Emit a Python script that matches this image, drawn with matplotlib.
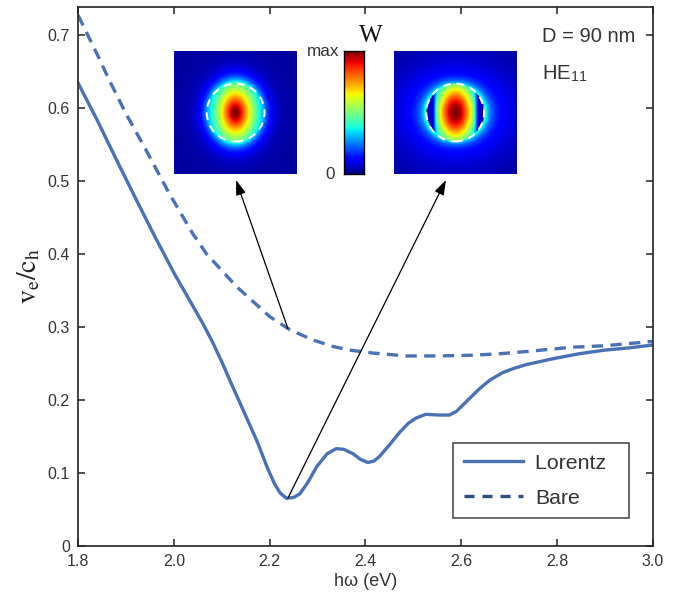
import numpy as np
import matplotlib
matplotlib.use("Agg")
import matplotlib.pyplot as plt
from matplotlib.patches import Circle

plt.rcParams['font.family'] = ['Liberation Sans', 'DejaVu Sans']
plt.rcParams['mathtext.fontset'] = 'stix'

# Lorentz (solid) curve
lor_x = [1.80, 1.84, 1.88, 1.92, 1.96, 2.00, 2.04, 2.06, 2.08, 2.10, 2.12, 2.15, 2.175, 2.195,
         2.21, 2.222, 2.235, 2.25, 2.263, 2.28, 2.298, 2.32, 2.339,
         2.355, 2.374, 2.39, 2.405, 2.418, 2.429, 2.45, 2.471, 2.49, 2.506, 2.526, 2.554,
         2.575, 2.59, 2.61, 2.638, 2.66, 2.686, 2.71, 2.735, 2.79, 2.846, 2.90, 2.95, 3.00]
lor_y = [0.634, 0.583, 0.529, 0.476, 0.424, 0.374, 0.328, 0.305, 0.280, 0.252, 0.222, 0.178,
         0.141, 0.107, 0.085, 0.072, 0.065, 0.066, 0.071, 0.087, 0.108, 0.126, 0.133,
         0.132, 0.126, 0.118, 0.114, 0.116, 0.122, 0.138, 0.155, 0.168, 0.175, 0.180, 0.179,
         0.179, 0.184, 0.197, 0.215, 0.227, 0.237, 0.243, 0.248, 0.256, 0.263, 0.268, 0.271, 0.275]

# Bare (dashed) curve
bare_x = [1.80, 1.846, 1.865, 1.90, 1.942, 1.99, 2.039, 2.068, 2.131, 2.20, 2.242, 2.29,
          2.332, 2.367, 2.415, 2.485, 2.55, 2.624, 2.68, 2.735, 2.832, 2.90, 2.95, 3.00]
bare_y = [0.727, 0.665, 0.638, 0.592, 0.542, 0.483, 0.428, 0.400, 0.355, 0.314, 0.296, 0.282,
          0.273, 0.268, 0.264, 0.260, 0.260, 0.261, 0.263, 0.266, 0.272, 0.274, 0.277, 0.280]

x_ticks = [1.8, 2.0, 2.2, 2.4, 2.6, 2.8, 3.0]
y_ticks = [0, 0.1, 0.2, 0.3, 0.4, 0.5, 0.6, 0.7]
arrow_E = 2.238   # where the two arrows start

blue = '#4a71b6'
dark = '#2f4d80'
txt = '#333333'

fig = plt.figure(figsize=(6.85, 5.97), dpi=100)
ax = fig.add_axes([0.114, 0.086, 0.839, 0.902])

ax.plot(lor_x, lor_y, color=blue, lw=2.4, label='Lorentz  ')
ax.plot(bare_x, bare_y, color=blue, lw=2.4, dashes=(3.4, 2.2))
ax.plot([], [], color=dark, lw=2.4, dashes=(3.0, 2.4), label='Bare')

ax.set_xlim(1.8, 3.0)
ax.set_ylim(0, 0.738)
ax.set_xticks(x_ticks)
ax.set_xticklabels(['%.1f' % v for v in x_ticks])
ax.set_yticks(y_ticks)
ax.set_yticklabels(['0'] + ['%.1f' % v for v in y_ticks[1:]])
ax.tick_params(direction='in', top=True, right=True, length=5, width=1.1,
               labelsize=11.5, colors='#222222', labelcolor=txt, pad=6)
for s in ax.spines.values():
    s.set_linewidth(1.2)
    s.set_color('#222222')

ax.set_xlabel('hω (eV)', fontsize=13, color=txt, labelpad=3)
ax.set_ylabel(r'$\mathrm{v_e/c_h}$', fontsize=20, color='#222222', labelpad=4)

ax.text(0.808, 0.945, 'D = 90 nm', transform=ax.transAxes, ha='left', va='center',
        fontsize=14.5, color=txt)
ax.text(0.808, 0.876, r'HE$_{\mathregular{11}}$', transform=ax.transAxes, ha='left',
        va='center', fontsize=14.5, color=txt)

leg = ax.legend(loc='lower right', bbox_to_anchor=(0.958, 0.051), fontsize=15.3,
                frameon=True, fancybox=False, handlelength=2.8, handletextpad=0.55,
                borderpad=0.5, labelspacing=0.75, borderaxespad=0)
leg.get_frame().set_edgecolor('#111111')
leg.get_frame().set_linewidth(1.1)
for t in leg.get_texts():
    t.set_color(txt)

# field maps (illustrations)
n = 121
g = np.linspace(-1, 1, n)
X, Y = np.meshgrid(g, g)
R = np.hypot(X, Y)
rc = 0.47
q = (X / 0.38) ** 2 + (Y / 0.55) ** 2
W1 = np.exp(-q ** 0.7) * np.exp(-np.clip(R - rc, 0, None) / 0.2) + 0.03

th = np.arctan2(Y, X)
cut = 1 / (1 + np.exp((np.abs(X) - 0.345) / 0.015))
inner = np.exp(-(X / 0.36) ** 2 - (Y / 0.55) ** 2) * cut + 0.06
ang = 0.7 + 0.3 * np.cos(th) ** 2
outer = ang * (0.3 * np.exp(-(R - rc) / 0.07) + 0.22 * np.exp(-(R - rc) / 0.4)) + 0.02
W2 = np.where(R < rc, inner, outer)
W2 = W2 / W2.max()

im_axes = [[0.254, 0.7085, 0.180, 0.206], [0.574, 0.7085, 0.181, 0.206]]
for pos, W in zip(im_axes, [W1, W2]):
    iax = fig.add_axes(pos)
    iax.imshow(W, cmap='jet', vmin=0, vmax=1, extent=[-1, 1, -1, 1])
    iax.add_patch(Circle((0, 0), rc, fill=False, ec='white', lw=1.4, ls=(0, (4, 3))))
    iax.set_axis_off()

cax = fig.add_axes([0.502, 0.7085, 0.029, 0.206])
cax.imshow(np.linspace(1, 0, 256)[:, None], cmap='jet', aspect='auto', extent=[0, 1, 0, 1])
cax.set_xticks([])
cax.set_yticks([])
for s in cax.spines.values():
    s.set_linewidth(1.0)
cax.text(-0.2, 1.0, 'max', transform=cax.transAxes, ha='right', va='center',
         fontsize=12.3, color=txt)
cax.text(-0.45, 0.0, '0', transform=cax.transAxes, ha='right', va='center',
         fontsize=12.3, color=txt)
cax.text(1.35, 1.12, 'W', transform=cax.transAxes, ha='center', va='center',
         fontsize=18, family='Liberation Serif', color='#111111')

# arrows from the curves to the maps
bare_pt = (arrow_E, np.interp(arrow_E, bare_x, bare_y))
lor_pt = (arrow_E, min(lor_y))
for start, tip in [(bare_pt, (0.3445, 0.6985)), (lor_pt, (0.651, 0.6985))]:
    ax.annotate('', xy=tip, xycoords='figure fraction', xytext=start, textcoords='data',
                arrowprops=dict(arrowstyle='-|>,head_length=0.9,head_width=0.3',
                                color='black', lw=0.9, shrinkA=0, shrinkB=0))

fig.savefig('out.png', dpi=100)
